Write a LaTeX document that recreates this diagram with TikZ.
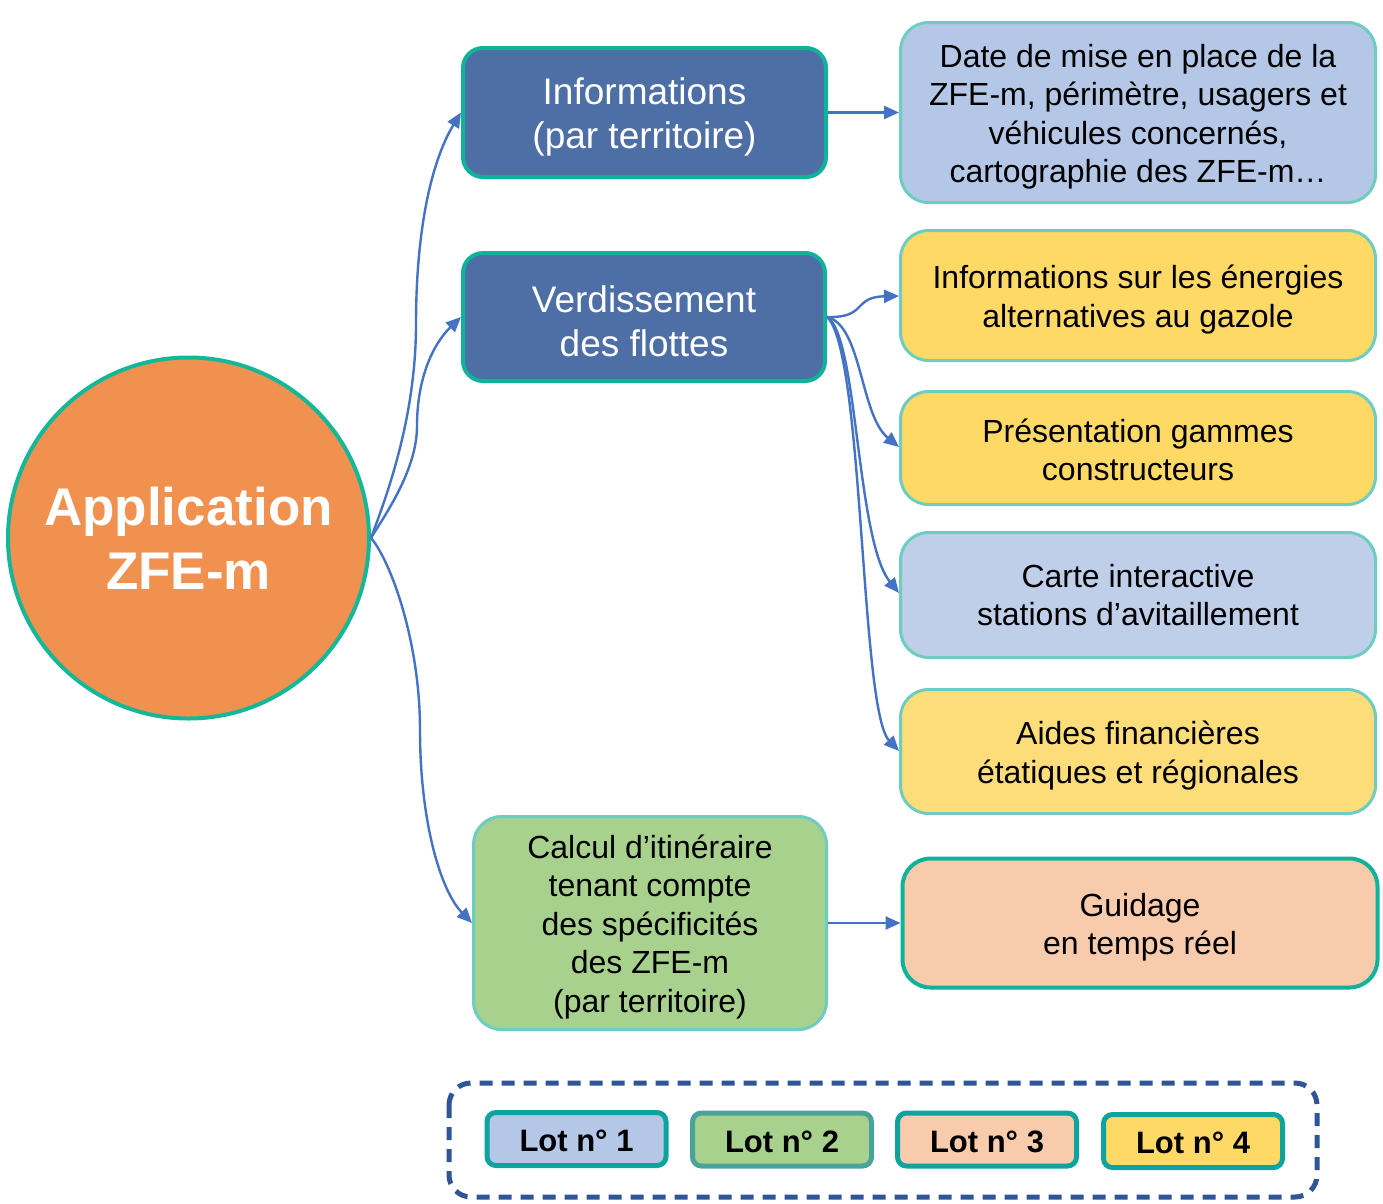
\documentclass[tikz,border=0pt]{standalone}
\usepackage{fontspec}
\setmainfont{Liberation Sans}
\usetikzlibrary{arrows.meta}
\definecolor{orangefill}{HTML}{F0914F}
\definecolor{tealc}{HTML}{14B898}
\definecolor{darkblue}{HTML}{4E6FA6}
\definecolor{tealb}{HTML}{0FB39A}
\definecolor{lightteal}{HTML}{6DCDC0}
\definecolor{blue1}{HTML}{B4C7E7}
\definecolor{blue2}{HTML}{BFCFEA}
\definecolor{yellow1}{HTML}{FFD966}
\definecolor{yellow2}{HTML}{FDDC7A}
\definecolor{green1}{HTML}{A9D18E}
\definecolor{peach}{HTML}{F8CBAD}
\definecolor{conn}{HTML}{4472C4}
\definecolor{dashblue}{HTML}{2F5597}
\definecolor{lotteal}{HTML}{0FA3A0}
\definecolor{lotteal2}{HTML}{4AA39A}
\tikzset{
  mainbox/.style={draw=tealb, line width=4pt, fill=darkblue, rounded corners=20pt, inner sep=0pt},
  maintext/.style={text=white, align=center, inner sep=0pt, font=\fontsize{37}{44}\selectfont},
  leafbox/.style={draw=lightteal, line width=3pt, rounded corners=28pt, inner sep=0pt, minimum width=475pt},
  leaftext/.style={align=center, inner sep=0pt, font=\fontsize{32}{38.5}\selectfont},
  lotbox/.style={line width=5pt, rounded corners=9pt, minimum width=179pt, minimum height=53pt,
    inner sep=0pt},
  lottext/.style={inner sep=0pt, font=\bfseries\fontsize{31}{36}\selectfont},
  connarrow/.style={draw=conn, line width=2.4pt, -{Triangle[length=15pt,width=13pt]}}
}
\begin{document}
\begin{tikzpicture}[x=1pt,y=-1pt]
\useasboundingbox[fill=white] (0,0) rectangle (1383,1203);

% central circle
\node[circle, draw=tealc, line width=4pt, fill=orangefill, minimum size=361pt, inner sep=0pt,
  text=white, align=center, font=\bfseries\fontsize{53}{64}\selectfont] (c) at (188.5,538) {Application\\ZFE-m};

% main boxes
\node[mainbox, minimum width=363pt, minimum height=129pt] (b1) at (644.5,112.5) {};
\node[maintext] (t1) at ([yshift=-4pt]b1.center) {Informations\\(par territoire)};
\node[mainbox, minimum width=362pt, minimum height=128pt] (b2) at (644,317) {};
\node[maintext] (t2) at ([yshift=-4pt]b2.center) {Verdissement\\des flottes};
\node[leafbox, fill=green1, minimum width=353pt, minimum height=213pt] (b3) at (650,923) {};
\node[leaftext] (t3) at ([yshift=-4pt]b3.center)
  {Calcul d’itinéraire\\tenant compte\\des spécificités\\des ZFE-m\\(par territoire)};

% leaf boxes
\node[leafbox, fill=blue1, minimum height=180pt] (b4) at (1138,112.5) {};
\node[leaftext] (t4) at ([yshift=-4pt]b4.center)
  {Date de mise en place de la\\ZFE-m, périmètre, usagers et\\véhicules concernés,\\cartographie des ZFE-m…};
\node[leafbox, fill=yellow1, minimum height=130pt] (b5) at (1138,295.5) {};
\node[leaftext] (t5) at ([yshift=-4pt]b5.center) {Informations sur les énergies\\alternatives au gazole};
\node[leafbox, fill=yellow1, minimum height=113pt] (b6) at (1138,448) {};
\node[leaftext] (t6) at ([yshift=-2pt]b6.center) {Présentation gammes\\constructeurs};
\node[leafbox, fill=blue2, minimum height=125pt] (b7) at (1138,595) {};
\node[leaftext] (t7) at (b7.center) {Carte interactive\\stations d’avitaillement};
\node[leafbox, fill=yellow2, minimum height=124pt] (b8) at (1138,751.5) {};
\node[leaftext] (t8) at ([yshift=-4pt]b8.center) {Aides financières\\étatiques et régionales};
\node[leafbox, draw=tealb, line width=4pt, fill=peach, minimum height=129pt] (b9) at (1140,923) {};
\node[leaftext] (t9) at ([yshift=-4pt]b9.center) {Guidage\\en temps réel};

% connectors from circle
\coordinate (cs) at (c.east);
\coordinate (m1) at (416,324);
\coordinate (m2) at (417,426);
\coordinate (m3) at (420,730);
\draw[connarrow] (cs) .. controls (385,500) and (416,420) .. (m1)
  .. controls (416,228) and (432,160) .. (b1.west);
\draw[connarrow] (cs) .. controls (385,515) and (417,470) .. (m2)
  .. controls (417,380) and (432,345) .. (b2.west);
\draw[connarrow] (cs) .. controls (390,560) and (420,640) .. (m3)
  .. controls (420,820) and (440,890) .. (b3.west);

% straight connectors
\draw[connarrow] (b1.east) -- (b4.west |- b1.east);
\draw[connarrow] (b3.east) -- (b9.west |- b3.east);

% fan from b2
\coordinate (v) at (b2.east);
\coordinate (a5) at (899,296);
\coordinate (a6) at (899,447);
\coordinate (a7) at (899,593);
\coordinate (a8) at (899,751);
\draw[connarrow] (v) .. controls (868,318) and (852,297) .. (a5);
\draw[connarrow] (v) .. controls (862,325) and (860,415) .. (a6);
\draw[connarrow] (v) .. controls (858,335) and (856,540) .. (a7);
\draw[connarrow] (v) .. controls (864,350) and (860,710) .. (a8);

% legend
\draw[dashblue, line width=5pt, dash pattern=on 13pt off 9pt, rounded corners=22pt]
  (449,1083) rectangle (1317,1197);
\node[lotbox, draw=lotteal, fill=blue1] (l1) at (576.5,1139) {};
\node[lottext] at ([yshift=-2pt]l1.center) {Lot n° 1};
\node[lotbox, draw=lotteal2, fill=green1] (l2) at (782,1139.5) {};
\node[lottext] at ([yshift=-2pt]l2.center) {Lot n° 2};
\node[lotbox, draw=lotteal, fill=peach] (l3) at (987,1139.5) {};
\node[lottext] at ([yshift=-2pt]l3.center) {Lot n° 3};
\node[lotbox, draw=lotteal, fill=yellow1] (l4) at (1193,1141) {};
\node[lottext] at ([yshift=-2pt]l4.center) {Lot n° 4};
\end{tikzpicture}
\end{document}
